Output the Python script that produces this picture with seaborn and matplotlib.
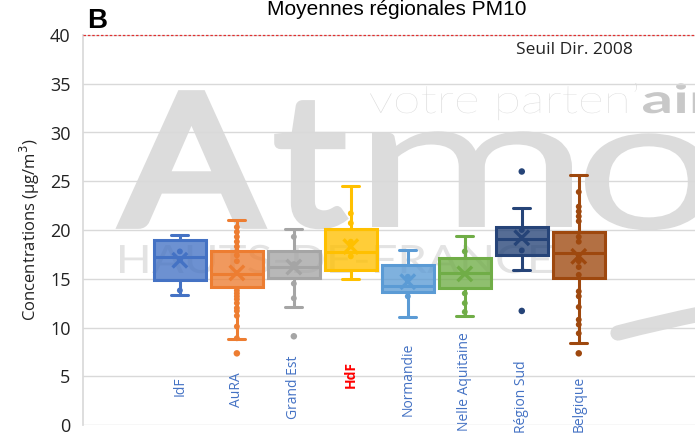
import matplotlib.pyplot as plt
import matplotlib.colors as mcolors
from matplotlib.font_manager import FontProperties
from matplotlib.patches import PathPatch
from matplotlib.path import Path
from matplotlib.textpath import TextPath
from matplotlib.transforms import Affine2D
import numpy as np
import pandas as pd
import seaborn as sns

# Box statistics (µg/m3)
regions = ["IdF", "AuRA", "Grand Est", "HdF", "Normandie",
           "Nelle Aquitaine", "Région Sud", "Belgique"]
whis_low = [13.3, 8.8, 12.1, 15.0, 11.1, 11.2, 15.9, 8.4]
q1 = [14.9, 14.2, 15.1, 15.9, 13.6, 14.1, 17.4, 15.1]
median = [17.2, 15.5, 16.2, 17.7, 14.3, 15.6, 19.1, 17.6]
q3 = [19.0, 17.8, 17.8, 20.1, 16.4, 17.1, 20.3, 19.8]
whis_high = [19.5, 21.0, 20.1, 24.5, 17.9, 19.4, 22.3, 25.6]
mean = [16.9, 15.6, 16.2, 18.3, 14.7, 15.5, 19.2, 17.3]

# outliers (region, value)
outlier_region = ["AuRA", "Grand Est", "Région Sud", "Région Sud", "Belgique"]
outlier_value = [7.35, 9.1, 26.0, 11.7, 7.35]

# inner points visible along the whiskers
inner_region = (["IdF"] * 3 + ["AuRA"] * 18 + ["Grand Est"] * 4 + ["HdF"] * 4
                + ["Normandie"] * 2 + ["Nelle Aquitaine"] * 4
                + ["Région Sud"] * 2 + ["Belgique"] * 16)
inner_value = [17.8, 16.9, 13.8,
               20.3, 19.8, 19.3, 18.8, 18.3, 17.8, 17.4, 16.8, 13.8, 13.5,
               13.2, 12.9, 12.5, 12.0, 11.7, 11.2, 10.1, 8.9,
               19.3, 14.5, 13.0, 16.5,
               21.7, 20.7, 18.8, 17.3,
               15.2, 13.2,
               17.8, 13.5, 12.5, 11.6,
               20.0, 17.9,
               23.9, 22.4, 21.9, 21.4, 20.9, 19.3, 18.8, 16.8, 16.2, 15.4,
               13.7, 13.2, 12.1, 10.8, 10.3, 9.4]

colors = ["#4472C4", "#ED7D31", "#A5A5A5", "#FFC000", "#5B9BD5",
          "#70AD47", "#264478", "#9E480E"]
label_y = [4.0, 3.6, 3.9, 5.2, 4.7, 4.5, 2.9, 2.15]

W, H = 695, 440

sns.set_theme(style="white")
plt.rcParams['font.family'] = ['Open Sans', 'DejaVu Sans']

fig = plt.figure(figsize=(W / 100, H / 100), dpi=100)
ax = fig.add_axes([83 / W, 15 / H, 1 - 83 / W, 390 / H])
ax.patch.set_alpha(0)

pos = {r: i for i, r in enumerate(regions)}
palette = dict(zip(regions, colors))


def logo_text(s, x0, x1, base, em, color, weight="normal", lw=0):
    # text stretched to a given pixel width, drawn behind the chart
    tp = TextPath((0, 0), s, size=em, prop=FontProperties(family="Lato", weight=weight))
    ext = tp.get_extents()
    sx = (x1 - x0) / ext.width
    tr = Affine2D().translate(-ext.x0, 0).scale(sx, 1).translate(x0, H - base)
    ax.add_patch(PathPatch(tp, transform=tr, facecolor=color, edgecolor=color,
                           lw=lw, joinstyle="miter", zorder=0))


# watermark (Atmo Hauts-de-France logo)
logo_text("A", 123, 260, 224, 180, "#dcdcdc", lw=7)
logo_text("t", 277, 345, 225, 182, "#dcdcdc", lw=4)
logo_text("m", 372, 572, 227, 186, "#dcdcdc")
logo_text("o", 585, 712, 229, 186, "#dcdcdc")
logo_text("votre parten’", 370, 637, 113, 40, "#d8d8d8", "light")
logo_text("air", 643, 712, 113, 40, "#c8c8c8", "bold")
logo_text("HAUTS-DE-FRANCE", 120, 552, 273, 39, "#e3e3e3")
swoosh = Path([(618, H - 333), (660, H - 322), (705, H - 313)],
              [Path.MOVETO, Path.CURVE3, Path.CURVE3])
ax.add_patch(PathPatch(swoosh, transform=Affine2D(), facecolor="none",
                       edgecolor="#dcdcdc", lw=11, capstyle="round", zorder=0))

# boxes
stats = []
for i, r in enumerate(regions):
    stats.append(dict(label=r, whislo=whis_low[i], q1=q1[i], med=median[i],
                      q3=q3[i], whishi=whis_high[i], mean=mean[i], fliers=[]))
bp = ax.bxp(stats, positions=range(len(regions)), widths=0.92,
            capwidths=0.3, patch_artist=True, showfliers=False,
            showmeans=False, manage_ticks=False)
for i, c in enumerate(colors):
    bp["boxes"][i].set(facecolor=mcolors.to_rgba(c, 0.78), edgecolor=c,
                       linewidth=2.2, zorder=2)
    bp["medians"][i].set(color=c, linewidth=2.2, zorder=3)
    for art in bp["whiskers"][2 * i:2 * i + 2] + bp["caps"][2 * i:2 * i + 2]:
        art.set(color=c, linewidth=2.2, zorder=3)

# points, outliers and means
pts = pd.DataFrame({"region": inner_region, "value": inner_value})
pts["x"] = pts["region"].map(pos)
sns.scatterplot(data=pts, x="x", y="value", hue="region", palette=palette,
                s=18, linewidth=0, legend=False, ax=ax, zorder=4)
outl = pd.DataFrame({"region": outlier_region, "value": outlier_value})
outl["x"] = outl["region"].map(pos)
sns.scatterplot(data=outl, x="x", y="value", hue="region", palette=palette,
                s=22, linewidth=0, legend=False, ax=ax, zorder=4)
means = pd.DataFrame({"region": regions, "value": mean})
means["x"] = means["region"].map(pos)
sns.scatterplot(data=means, x="x", y="value", hue="region", palette=palette,
                marker="x", s=110, linewidth=2.4, legend=False, ax=ax, zorder=5)

# threshold line
ax.axhline(40, color="#e03030", linestyle=(0, (2, 1.5)), linewidth=0.9,
           clip_on=False, zorder=5)
ax.text(6.93, 38.5, "Seuil Dir. 2008", fontsize=12.5, color="#222222",
        ha="center", va="center")

# category labels inside the plot
for i, r in enumerate(regions):
    hdf = r == "HdF"
    ax.text(i, label_y[i], r, rotation=90, ha="center", va="center",
            fontsize=10, color="#ff0000" if hdf else "#4472C4",
            fontweight="bold" if hdf else "normal", zorder=6)

ax.set_xlim(-1.7, 9.04)
ax.set_ylim(0, 40)
ax.set_yticks(range(0, 41, 5))
ax.set_xticks([])
ax.tick_params(axis="y", labelsize=13, length=0, pad=9, labelcolor="#222222")
ax.grid(axis="y", color="#d9d9d9", linewidth=1, zorder=0.5)
ax.set_axisbelow(True)
for s in ["top", "right", "bottom"]:
    ax.spines[s].set_visible(False)
ax.spines["left"].set_color("#d9d9d9")
ax.set_xlabel(None)
ax.set_ylabel("Concentrations (µg/m$^3$)", fontsize=12, color="#222222",
              labelpad=6)

fig.text(397 / W, 1 - 15 / H, "Moyennes régionales PM10", fontsize=15,
         family="Liberation Sans", ha="center", va="baseline", color="black")
fig.text(87 / W, 1 - 28 / H, "B", fontsize=20, family="Liberation Sans",
         fontweight="bold", ha="left", va="baseline", color="black")

fig.savefig("out.png", dpi=100)
